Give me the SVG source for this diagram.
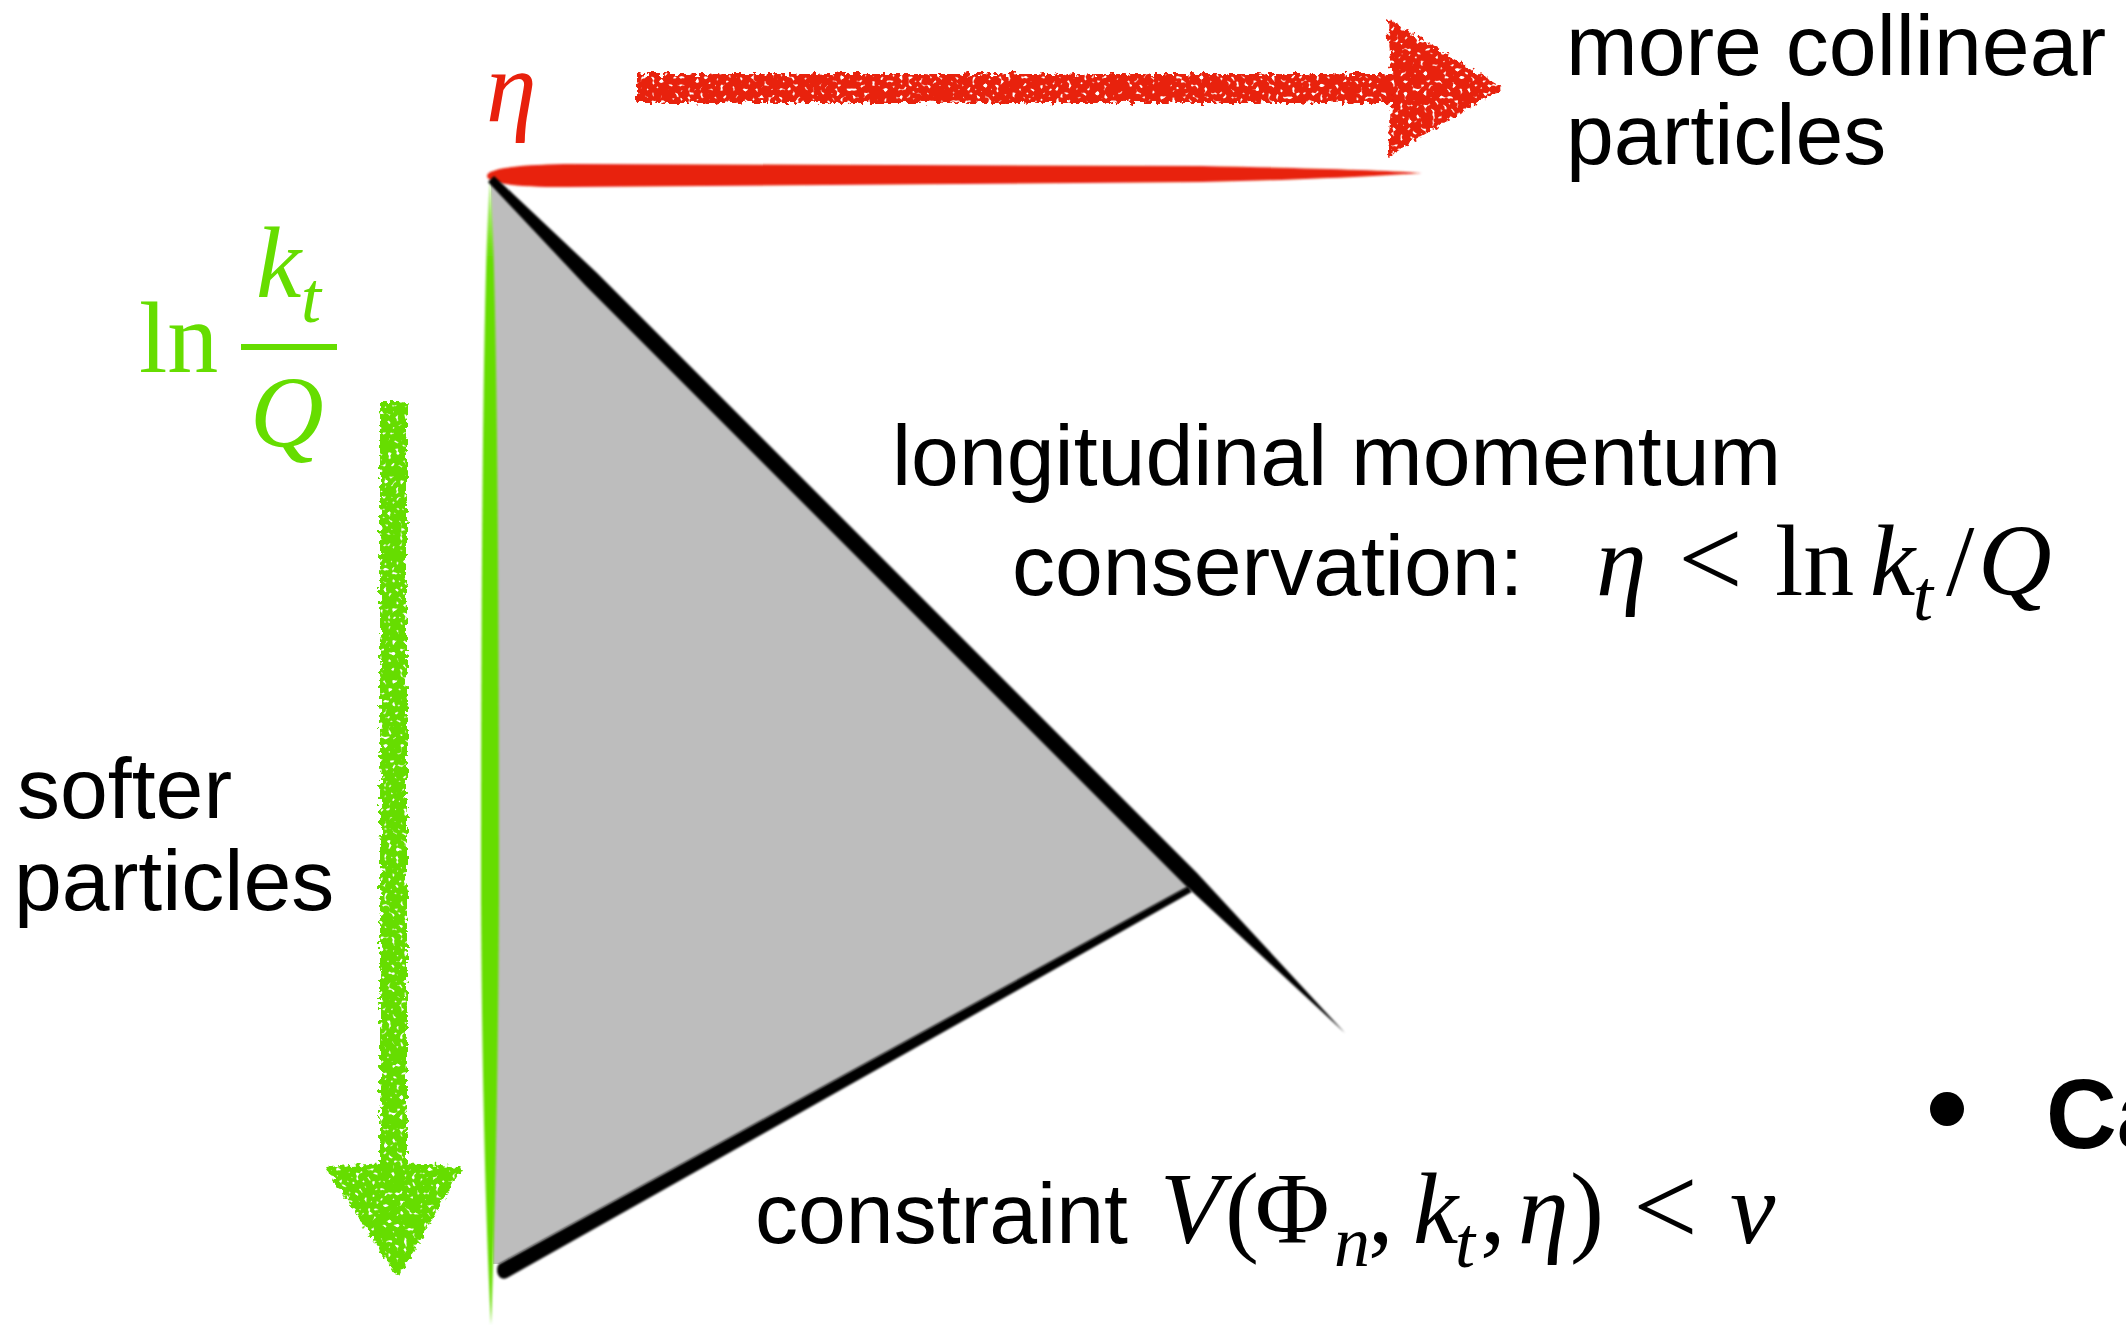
<svg xmlns="http://www.w3.org/2000/svg" width="2126" height="1325" viewBox="0 0 2126 1325">
<defs>
<style>
.sans{font-family:"Liberation Sans",Arial,Helvetica,sans-serif;font-size:86px;fill:#000}
.bold{font-family:"Liberation Sans",Arial,Helvetica,sans-serif;font-size:98px;font-weight:bold;fill:#000}
.m{font-family:"Liberation Serif","Times New Roman",serif;font-size:102px}
.lt{font-family:"Liberation Serif","Times New Roman",serif;font-size:115px}
.mi{font-family:"Liberation Serif","Times New Roman",serif;font-size:102px;font-style:italic}
.sub{font-family:"Liberation Serif","Times New Roman",serif;font-size:72px;font-style:italic}
.red{fill:#e8200c}
.green{fill:#66dd00}
.blk{fill:#000}
</style>
<filter id="rough" x="-20%" y="-5%" width="140%" height="110%">
<feTurbulence type="fractalNoise" baseFrequency="0.2" numOctaves="2" seed="3" result="n"/>
<feDisplacementMap in="SourceGraphic" in2="n" scale="10" xChannelSelector="R" yChannelSelector="G" result="d"/>
<feTurbulence type="fractalNoise" baseFrequency="0.25" numOctaves="1" seed="11" result="n2"/>
<feColorMatrix in="n2" type="matrix" values="0 0 0 0 0  0 0 0 0 0  0 0 0 0 0  0 0 0 9 -2.5" result="holes"/>
<feComposite in="d" in2="holes" operator="in"/>
</filter>
<filter id="soft" filterUnits="userSpaceOnUse" x="0" y="0" width="2126" height="1325">
<feGaussianBlur stdDeviation="1"/>
</filter>
<linearGradient id="gline" x1="0" y1="179" x2="0" y2="1325" gradientUnits="userSpaceOnUse">
<stop offset="0" stop-color="#c4f29c"/>
<stop offset="0.07" stop-color="#66dd00"/>
<stop offset="1" stop-color="#66dd00"/>
</linearGradient>
</defs>

<g id="phase-space">
<polygon points="491,179 1190,886 499,1264 493,1264" fill="#bdbdbd"/>
</g>

<g id="connectors">
<g id="eta-axis" filter="url(#soft)">
<path class="red" d="M487 176 C487 168 520 165 565 164 L1200 166 C1300 168 1380 170 1422 173 C1380 176 1300 180 1200 182 L565 187 C520 187 487 184 487 176 Z"/>
</g>
<g id="kt-axis" filter="url(#soft)">
<path fill="url(#gline)" d="M490 178 C496 260 499 500 499 900 C498 1100 494 1250 491 1325 C487 1250 482 1100 481 900 C481 500 484 260 490 178 Z"/>
</g>
<g id="momentum-line" filter="url(#soft)">
<path class="blk" d="M494 176 L597 273 L1197 873 L1345 1033 L1185 885 L585 285 L488 182 Z"/>
</g>
<g id="constraint-line" filter="url(#soft)">
<path class="blk" d="M1188.3 885.9 L1191.7 892.1 L506.9 1278 C499 1282 494 1270 499.1 1264 Z"/>
</g>
<g id="collinear-arrow" filter="url(#rough)">
<rect class="red" x="637" y="74" width="760" height="29"/>
<polygon class="red" points="1388,20 1503,88 1388,156 1392,88"/>
</g>
<g id="softer-arrow" filter="url(#rough)">
<rect class="green" x="380" y="402" width="27" height="775"/>
<path class="green" d="M326 1168 C350 1162 440 1162 462 1168 L398 1278 Z"/>
</g>
</g>

<g id="label-eta">
<text class="mi red" x="486" y="121" font-size="100">η</text>
</g>
<g id="label-collinear">
<text class="sans" x="1566" y="75">more collinear</text>
<text class="sans" x="1566" y="164">particles</text>
</g>
<g id="label-lnkt">
<text class="m green" x="139" y="372">ln</text>
<rect class="green" x="241" y="344" width="96" height="6"/>
<text class="mi green" x="256" y="297">k</text>
<text class="sub green" x="301" y="322">t</text>
<text class="mi green" x="250" y="447">Q</text>
</g>
<g id="label-softer">
<text class="sans" x="17" y="818">softer</text>
<text class="sans" x="14" y="910">particles</text>
</g>
<g id="label-momentum">
<text class="sans" x="892" y="485">longitudinal momentum</text>
<text class="sans" x="1012" y="595">conservation:</text>
<text class="mi" x="1596" y="595">η</text>
<text class="lt" x="1678" y="597">&lt;</text>
<text class="m" x="1775" y="595">ln</text>
<text class="mi" x="1870" y="595">k</text>
<text class="sub" x="1913" y="620">t</text>
<text class="m" x="1946" y="595">/</text>
<text class="mi" x="1978" y="595">Q</text>
</g>
<g id="label-constraint">
<text class="sans" x="755" y="1243">constraint</text>
<text class="mi" x="1160" y="1243">V</text>
<text class="m" x="1225" y="1243">(</text>
<text class="m" x="1255" y="1243">Φ</text>
<text class="sub" x="1334" y="1266">n</text>
<text class="m" x="1368" y="1243">,</text>
<text class="mi" x="1413" y="1243">k</text>
<text class="sub" x="1455" y="1267">t</text>
<text class="m" x="1480" y="1243">,</text>
<text class="mi" x="1518" y="1243">η</text>
<text class="m" x="1570" y="1243">)</text>
<text class="lt" x="1633" y="1245">&lt;</text>
<text class="mi" x="1730" y="1243">v</text>
</g>
<g id="bullet">
<circle cx="1947" cy="1109" r="17" fill="#000"/>
<text class="bold" x="2046" y="1148">Ca</text>
</g>
</svg>
